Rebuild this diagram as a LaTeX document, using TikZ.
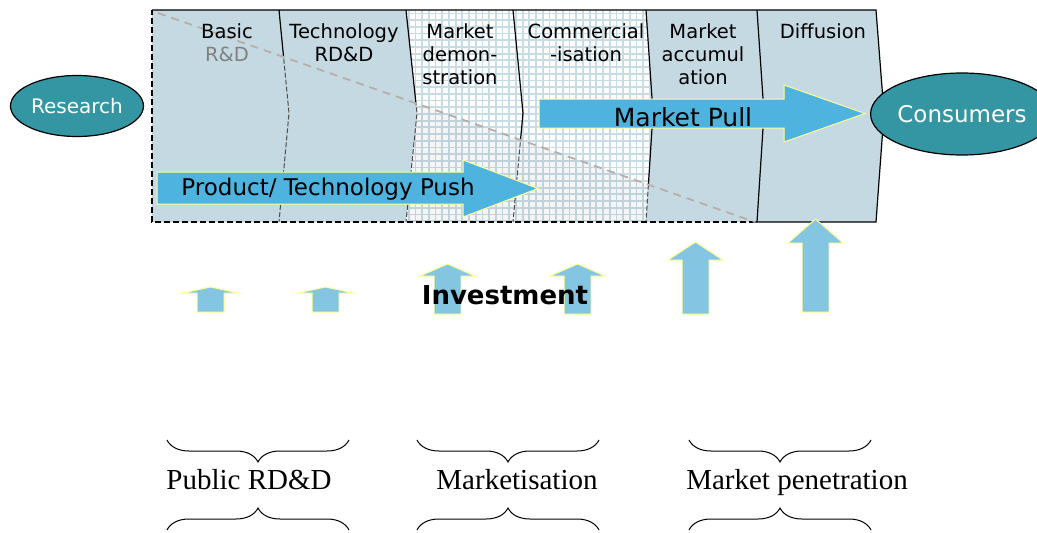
\documentclass[tikz,border=0pt]{standalone}
\usepackage{fontspec}
\setmainfont{Liberation Serif}
\newfontfamily\sansfont{DejaVu Sans}
\usepackage{tikz}
\usetikzlibrary{positioning, shapes.geometric, decorations.pathreplacing}
\definecolor{phase}{HTML}{C5D9E2}
\definecolor{gridline}{HTML}{C8DCE6}
\definecolor{pushblue}{HTML}{4EB3DE}
\definecolor{investblue}{HTML}{84C6E2}
\definecolor{paleyellow}{HTML}{FFFF99}
\definecolor{teal}{HTML}{3396A2}
\definecolor{diag}{HTML}{B8ADA7}
\tikzset{%
	stage/.style = {anchor = north, inner sep = 0pt, align = center, font = \sansfont\fontsize{19.5}{23}\selectfont},
	actor/.style = {name = #1, ellipse, draw, line width = 1.2pt, fill = teal, text = white, inner sep = 0pt},
	bigarrow/.style = {fill = pushblue, draw = paleyellow, line width = 1pt},
	invest/.style = {fill = investblue, draw = paleyellow, line width = 1pt},
	brc/.style = {decorate, decoration = {brace, amplitude = 22pt}, line width = 1pt},
	phasetext/.style = {anchor = base, font = \fontsize{29}{34}\selectfont}
}
\begin{document}
\begin{tikzpicture}[x = 1pt, y = -1pt]
		\useasboundingbox (0,0) rectangle (1037,533);
		% phase columns
		\fill [phase] (152,10) -- (406,10) -- (417,113) -- (406,222) -- (152,222) -- cycle;
		\fill [white] (406,10) -- (646,10) -- (653,113) -- (646,222) -- (406,222) -- (417,113) -- cycle;
		\begin{scope}
			\clip (406,10) -- (646,10) -- (653,113) -- (646,222) -- (406,222) -- (417,113) -- cycle;
			\draw [gridline, line width = 1.8pt] (400,225) grid [step = 6.7pt] (660,5);
			\fill [black, opacity = 0.04] (152,10) -- (755,222) -- (152,222) -- cycle;
		\end{scope}
		\fill [phase] (646,10) -- (876,10) -- (884,113) -- (876,222) -- (646,222) -- (653,113) -- cycle;
		% dividers
		\begin{scope}
			\clip (152,10) -- (880,10) -- (880,222) -- (755,222) -- cycle;
			\foreach \t/\p in {279/289, 406/417, 513/523, 646/653, 757/764}
				\draw [line width = 1.2pt] (\t,10) -- (\p,113) -- (\t,222);
		\end{scope}
		\begin{scope}
			\clip (152,10) -- (755,222) -- (152,222) -- cycle;
			\foreach \t/\p in {279/289, 406/417, 513/523, 646/653}
				\draw [gray!60!black, dash pattern = on 5pt off 2pt, line width = 1pt] (\t,10) -- (\p,113) -- (\t,222);
		\end{scope}
		\draw [line width = 1.2pt] (152,10) -- (876,10) -- (884,113) -- (876,222) -- (755,222);
		\draw [dash pattern = on 6pt off 3pt, line width = 1.2pt] (755,222) -- (152,222) -- (152,10);
		\draw [diag, dash pattern = on 8pt off 6pt, line width = 1.8pt] (158,13) -- (755,222);
		% stage labels
		\node [stage] (basic) at (227,23) {Basic\\\textcolor{gray}{R\&D}};
		\node [stage] (techrdd) at (344,23) {Technology\\RD\&D};
		\node [stage] (demo) at (460,23) {Market\\demon-\\stration};
		\node [stage] (comm) at (586,23) {Commercial\\-isation};
		\node [stage] (accum) at (703,23) {Market\\accumul\\ation};
		\node [stage] (diff) at (823,23) {Diffusion};
		% actors
		\node [actor = {research}, minimum width = 133pt, minimum height = 61pt, font = \sansfont\fontsize{20}{22}\selectfont] at (77,106) {Research};
		\node [actor = {consumers}, minimum width = 147pt, minimum height = 82pt, font = \sansfont\fontsize{23}{26}\selectfont] at (962,114) {Consumers};
		% push and pull
		\draw [bigarrow] (157,172) -- (463,172) -- (463,160) -- (538,188.5) -- (463,217) -- (463,204) -- (157,204) -- cycle;
		\draw [bigarrow] (539,99) -- (784,99) -- (784,85) -- (865,113.5) -- (784,142) -- (784,128) -- (539,128) -- cycle;
		\node [font = \sansfont\fontsize{23}{26}\selectfont] (push) at (328,189) {Product/ Technology Push};
		\node [font = \sansfont\fontsize{25}{28}\selectfont] (pull) at (683,117) {Market Pull};
		% investment
		\foreach \x/\hb/\tp/\bt in {210.5/293/287/312, 325.5/293/287/312, 447.5/276/264/314, 577.5/276/264/314, 695.5/260/242/314, 815.5/243/219/312}
			\draw [invest] ({\x-13.5},\bt) -- ({\x-13.5},\hb) -- ({\x-27.5},\hb) -- (\x,\tp) -- ({\x+27.5},\hb) -- ({\x+13.5},\hb) -- ({\x+13.5},\bt) -- cycle;
		\node [font = \sansfont\bfseries\fontsize{26}{30}\selectfont] (investment) at (505,295) {Investment};
		% phases
		\draw [brc, decoration = {mirror}] (167,440) -- (349,440);
		\draw [brc, decoration = {mirror}] (417,440) -- (599,440);
		\draw [brc, decoration = {mirror}] (689,440) -- (871,440);
		\draw [brc] (167,530) -- (349,530);
		\draw [brc] (417,530) -- (599,530);
		\draw [brc] (689,530) -- (871,530);
		\node [phasetext] (public) at (249,489) {Public RD\&D};
		\node [phasetext] (marketisation) at (517,489) {Marketisation};
		\node [phasetext] (penetration) at (797,489) {Market penetration};
\end{tikzpicture}
\end{document}
